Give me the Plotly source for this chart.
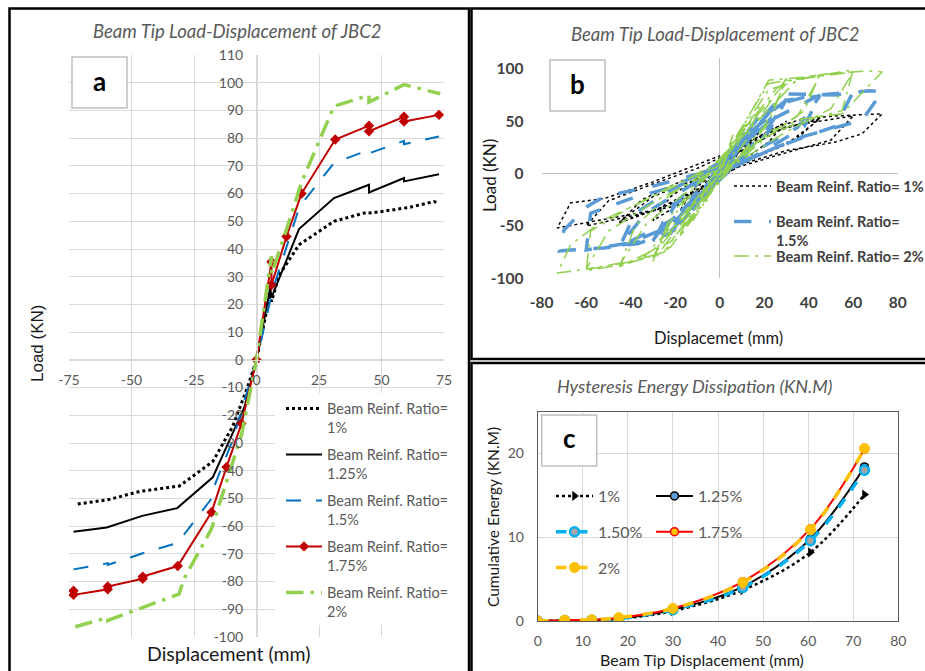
import plotly.graph_objects as go

W, H = 925, 671
FONT = "Lato"

# ---------------- Panel a: envelope (backbone) curves ----------------
a_x_1 = [-71.5, -59.5, -46.8, -30.8, -17.5, -9.5, -3.5, 0, 5.5, 6, 9, 17, 31, 44, 46, 58.5, 61, 71, 73]
a_y_1 = [-52, -50.5, -47.5, -45.5, -36.7, -24, -9.6, 0, 24, 21, 30.5, 41.5, 50, 53.2, 53, 54.7, 55, 57.1, 56.5]

a_x_125 = [-73.2, -59.9, -45.7, -31.7, -17.5, -7, -4.8, 0, 5.5, 6, 17, 31, 45, 45, 59, 59, 73]
a_y_125 = [-62, -60.5, -56.3, -53.5, -42.4, -21.4, -17, 0, 26, 22.5, 47.2, 58.4, 63.2, 60.4, 65.6, 64.4, 67]

a_x_15 = [-73.2, -59.5, -59.5, -45.5, -31.5, -17.5, -17.5, -9.5, 0, 6.5, 17.2, 31, 45, 45, 59, 59, 73]
a_y_15 = [-75.6, -73.4, -74, -69.8, -66, -49.5, -47, -28.9, 0, 25.3, 55.3, 71, 75.8, 74.5, 79, 77.8, 80.6]

a_x_175 = [-73.2, -73.2, -59.5, -59.5, -45.5, -45.5, -31.5, -18, -12, -6, 0, 6, 6, 12, 18, 31.5, 45, 45, 59, 59, 73]
a_y_175 = [-83.3, -84.8, -82.8, -81.8, -79, -78.2, -74.4, -55, -38.7, -23, 0, 35.4, 27, 44.5, 60, 79.5, 84.5, 82.5, 87.7, 86, 88.4]

a_x_2 = [-72.5, -59.5, -59.5, -45.5, -31, -29, -18, -12, -6, 0, 6, 6, 12, 18, 31, 45, 45, 59, 73.5]
a_y_2 = [-96.3, -93, -94, -89.3, -84.5, -79, -61, -44, -27, 0, 37.5, 31, 47, 64, 91.5, 95.5, 93, 99.3, 96]

a_x_ticks = [-75, -50, -25, 0, 25, 50, 75]
a_x_ticktext = ["-75", "-50", "-25", "0", "25", "50", "75"]
a_y_ticks = [-100, -90, -80, -70, -60, -50, -40, -30, -20, -10, 0, 10, 20, 30, 40, 50, 60, 70, 80, 90, 100, 110]
a_y_ticktext = ["-100", "-90", "-80", "-70", "-60", "-50", "-40", "-30", "-20", "-10", "0", "10", "20", "30",
                "40", "50", "60", "70", "80", "90", "100", "110"]

# ---------------- Panel b: hysteresis loops ----------------
b_x_1 = [0, 6, 3, 0, -6, -3, 0,
         12, 7, 0, -12, -7, 0,
         18, 12, 4, 0, -18, -12, -4, 0,
         15, 30, 22, 10, 0, -15, -30, -22, -10, 0,
         25, 45, 35, 20, 5, 0, -25, -45, -35, -20, -5, 0,
         20, 45, 30, 10, 0, -20, -45, -30, -10, 0,
         30, 60, 50, 30, 8, 0, -30, -60, -50, -30, -10, 0,
         25, 37, 52, 73, 64, 52, 30, 10, 0, -22, -45, -67, -73, -67, -52, -30, -13, 0]
b_y_1 = [0, 20, 8, -2, -15, -5, 3,
         31, 15, -3, -25, -10, 5,
         41, 22, 6, -4, -36, -16, -2, 7,
         30, 50, 30, 12, -4, -25, -45, -22, -4, 9,
         40, 53, 34, 20, 6, -4, -32, -47, -25, -10, 4, 12,
         38, 52, 28, 10, -3, -28, -46, -22, -5, 10,
         45, 55, 32, 20, 6, -4, -36, -50, -26, -10, 5, 15,
         44, 52, 55, 57, 38, 30, 22, 9, -4, -32, -41, -50, -52, -28, -24, -8, 6, 17]

b_x_15 = [0, 6, 3, 0, -6, -3, 0,
          12, 7, 0, -12, -7, 0,
          18, 12, 4, 0, -18, -12, -4, 0,
          20, 30, 22, 10, 0, -20, -30, -22, -10, 0,
          25, 30, 20, 8, 0, -22, -30, -20, -8, 0,
          22, 45, 38, 22, 6, 0, -22, -45, -38, -22, -6, 0,
          30, 45, 35, 18, 0, -30, -45, -33, -15, 0,
          26, 40, 60, 52, 37, 22, 0, -22, -40, -60, -58, -40, -20, 0,
          25, 30, 52, 67, 73, 64, 51, 37, 22, 0, -15, -22, -37, -52, -67, -72, -70, -60, -52, -30, 0]
b_y_15 = [0, 25, 10, -3, -20, -6, 4,
          40, 18, -4, -35, -14, 6,
          55, 28, 8, -5, -48, -22, -4, 8,
          45, 71, 40, 15, -5, -40, -66, -32, -8, 10,
          62, 70, 38, 14, -4, -55, -64, -30, -6, 8,
          50, 75, 45, 24, 6, -6, -45, -70, -38, -16, 2, 12,
          70, 74, 44, 24, 0, -62, -69, -37, -14, 8,
          66, 74, 78, 45, 34, 22, 0, -50, -66, -73, -38, -24, -12, 10,
          67, 76, 75, 79, 78, 51, 43, 35, 22, 0, -38, -57, -67, -71, -73, -74, -54, -32, -22, -12, 5]

b_x_2 = [0, 6, 3, 0, -6, -3, 0,
         12, 7, 0, -12, -7, 0,
         18, 12, 4, 0, -18, -12, -4, 0,
         20, 30, 22, 10, 0, -20, -30, -22, -10, 0,
         25, 30, 20, 8, 0, -22, -30, -20, -8, 0,
         22, 45, 38, 22, 6, 0, -22, -45, -38, -22, -6, 0,
         30, 45, 35, 18, 0, -30, -45, -33, -15, 0,
         22, 40, 60, 55, 37, 20, 0, -25, -40, -60, -58, -40, -20, 0,
         35, 60, 50, 30, 0, -35, -60, -50, -28, 0,
         22, 37, 52, 67, 73, 55, 37, 22, 0, -28, -37, -52, -67, -73, -67, -52, -37, -22, 0]
b_y_2 = [0, 37, 15, -3, -27, -8, 5,
         47, 22, -4, -45, -18, 6,
         64, 32, 8, -6, -61, -28, -5, 9,
         60, 91, 48, 18, -6, -55, -84, -40, -10, 12,
         80, 88, 45, 15, -5, -70, -80, -38, -8, 10,
         80, 95, 60, 36, 8, -8, -65, -89, -50, -20, 2, 14,
         88, 93, 55, 30, 0, -78, -87, -48, -18, 10,
         86, 92, 99, 60, 50, 35, 0, -75, -85, -93, -55, -32, -12, 12,
         90, 97, 62, 40, 0, -82, -91, -55, -25, 5,
         89, 92, 96, 98, 97, 57, 52, 40, 0, -70, -83, -89, -93, -95, -68, -44, -29, -12, 8]

b_x_ticks = [-80, -60, -40, -20, 0, 20, 40, 60, 80]
b_x_ticktext = ["-80", "-60", "-40", "-20", "0", "20", "40", "60", "80"]
b_y_ticks = [-100, -50, 0, 50, 100]
b_y_ticktext = ["-100", "-50", "0", "50", "100"]

# ---------------- Panel c: cumulative energy ----------------
c_x = [0, 6, 12, 18, 30, 45.5, 60.5, 72.5]
c_1 = [0, 0.05, 0.1, 0.25, 1.2, 3.7, 8.2, 15.1]
c_125 = [0, 0.05, 0.1, 0.3, 1.35, 4.1, 9.8, 18.4]
c_150 = [0, 0.05, 0.1, 0.3, 1.35, 4.0, 9.6, 18.0]
c_175 = [0, 0.1, 0.15, 0.4, 1.5, 4.7, 11.0, 20.5]
c_2 = [0, 0.1, 0.15, 0.4, 1.5, 4.6, 10.9, 20.6]
c_x_ticks = [0, 10, 20, 30, 40, 50, 60, 70, 80]
c_y_ticks = [0, 10, 20]


def PX(p):
    return p / W


def PY(p):
    return 1 - p / H


GRAY_T = "#595959"
GRID = "#D9D9D9"

fig = go.Figure()

# ---- panel a traces ----
LEG_A = "Beam Reinf. Ratio=<br>"
fig.add_trace(go.Scatter(x=a_x_1, y=a_y_1, mode="lines", name=LEG_A + "1%",
                         line=dict(color="black", width=3, dash="dot"),
                         xaxis="x", yaxis="y", legend="legend"))
fig.add_trace(go.Scatter(x=a_x_125, y=a_y_125, mode="lines", name=LEG_A + "1.25%",
                         line=dict(color="black", width=2),
                         xaxis="x", yaxis="y", legend="legend2"))
fig.add_trace(go.Scatter(x=a_x_15, y=a_y_15, mode="lines", name=LEG_A + "1.5%",
                         line=dict(color="#0070C0", width=2, dash="longdash"),
                         xaxis="x", yaxis="y", legend="legend3"))
fig.add_trace(go.Scatter(x=a_x_175, y=a_y_175, mode="lines+markers", name=LEG_A + "1.75%",
                         line=dict(color="#C00000", width=2),
                         marker=dict(symbol="diamond", size=8, color="#C00000"),
                         xaxis="x", yaxis="y", legend="legend4"))
fig.add_trace(go.Scatter(x=a_x_2, y=a_y_2, mode="lines", name=LEG_A + "2%",
                         line=dict(color="#92D050", width=3.5, dash="longdashdot"),
                         xaxis="x", yaxis="y", legend="legend5"))

# ---- panel b traces ----
fig.add_trace(go.Scatter(x=b_x_1, y=b_y_1, mode="lines", name="Beam Reinf. Ratio= 1%",
                         line=dict(color="black", width=1.5, dash="dot"),
                         xaxis="x2", yaxis="y2", legend="legend6"))
fig.add_trace(go.Scatter(x=b_x_15, y=b_y_15, mode="lines", name="Beam Reinf. Ratio=<br>1.5%",
                         line=dict(color="#5B9BD5", width=3.5, dash="longdash"),
                         xaxis="x2", yaxis="y2", legend="legend7"))
fig.add_trace(go.Scatter(x=b_x_2, y=b_y_2, mode="lines", name="Beam Reinf. Ratio= 2%",
                         line=dict(color="#92D050", width=1.5, dash="longdashdot"),
                         xaxis="x2", yaxis="y2", legend="legend8"))

# ---- panel c traces ----
fig.add_trace(go.Scatter(x=c_x, y=c_1, mode="lines+markers", name="1%",
                         line=dict(color="black", width=2.5, dash="dot", shape="spline"),
                         marker=dict(symbol="triangle-right", size=9, color="black"),
                         xaxis="x3", yaxis="y3", legend="legend9"))
fig.add_trace(go.Scatter(x=c_x, y=c_125, mode="lines+markers", name="1.25%",
                         line=dict(color="black", width=2, shape="spline"),
                         marker=dict(symbol="circle", size=8, color="#5B9BD5",
                                     line=dict(color="black", width=1.5)),
                         xaxis="x3", yaxis="y3", legend="legend10"))
fig.add_trace(go.Scatter(x=c_x, y=c_150, mode="lines+markers", name="1.50%",
                         line=dict(color="#00B0F0", width=3.5, dash="dash", shape="spline"),
                         marker=dict(symbol="circle", size=9, color="#A5A5A5",
                                     line=dict(color="#00B0F0", width=2.5)),
                         xaxis="x3", yaxis="y3", legend="legend9"))
fig.add_trace(go.Scatter(x=c_x, y=c_175, mode="lines+markers", name="1.75%",
                         line=dict(color="#FF0000", width=2, shape="spline"),
                         marker=dict(symbol="circle", size=8, color="#FFC000",
                                     line=dict(color="#FF0000", width=1.5)),
                         xaxis="x3", yaxis="y3", legend="legend10"))
fig.add_trace(go.Scatter(x=c_x, y=c_2, mode="lines+markers", name="2%",
                         line=dict(color="#FFC000", width=3.5, dash="dash", shape="spline"),
                         marker=dict(symbol="circle", size=10, color="#FFC000",
                                     line=dict(color="#FFC000", width=1)),
                         xaxis="x3", yaxis="y3", legend="legend9"))

# ---- axes ----
tick_a = dict(family=FONT, size=14, color=GRAY_T)
layout = dict(
    width=W, height=H, margin=dict(l=0, r=0, t=0, b=0, pad=0, autoexpand=False),
    paper_bgcolor="white", plot_bgcolor="rgba(0,0,0,0)",
    font=dict(family=FONT, color=GRAY_T),
    showlegend=True,
    xaxis=dict(domain=[PX(69), PX(444)], range=[-75, 75], tickvals=a_x_ticks, ticktext=a_x_ticktext,
               anchor="free", position=PY(360), showgrid=True, gridcolor=GRID, gridwidth=1,
               zeroline=False, showline=True, linecolor=GRID, ticks="outside", ticklen=7,
               tickcolor="rgba(0,0,0,0)", tickfont=tick_a),
    yaxis=dict(domain=[PY(637), PY(55)], range=[-100, 110], tickvals=a_y_ticks, ticktext=a_y_ticktext,
               anchor="free", position=PX(257), showgrid=True, gridcolor=GRID, gridwidth=1,
               zeroline=False, showline=True, linecolor=GRID, ticks="outside", ticklen=11,
               tickcolor="rgba(0,0,0,0)", tickfont=tick_a),
    xaxis2=dict(domain=[PX(541.7), PX(897.7)], range=[-80, 80], tickvals=b_x_ticks, ticktext=b_x_ticktext,
                anchor="y2", showgrid=False, zeroline=True, zerolinecolor="#BFBFBF", zerolinewidth=1,
                showline=False, ticks="outside", ticklen=10, tickcolor="rgba(0,0,0,0)",
                tickfont=dict(family=FONT, size=15.5, color="#404040", weight="bold")),
    yaxis2=dict(domain=[PY(278.3), PY(58.3)], range=[-100, 110], tickvals=b_y_ticks, ticktext=b_y_ticktext,
                anchor="x2", showgrid=False, zeroline=True, zerolinecolor="#BFBFBF", zerolinewidth=1,
                showline=False, ticks="outside", ticklen=14, tickcolor="rgba(0,0,0,0)",
                tickfont=dict(family=FONT, size=15.5, color="#404040", weight="bold")),
    xaxis3=dict(domain=[PX(537.7), PX(898.3)], range=[0, 80], tickvals=c_x_ticks,
                anchor="y3", showgrid=True, gridcolor=GRID, zeroline=False,
                showline=True, mirror=True, linecolor="#595959", linewidth=1,
                ticks="outside", ticklen=7, tickcolor="rgba(0,0,0,0)",
                tickfont=dict(family=FONT, size=14, color=GRAY_T)),
    yaxis3=dict(domain=[PY(621), PY(411.7)], range=[0, 25], tickvals=c_y_ticks,
                anchor="x3", showgrid=True, gridcolor=GRID, zeroline=False,
                showline=True, mirror=True, linecolor="#595959", linewidth=1,
                ticks="outside", ticklen=10, tickcolor="rgba(0,0,0,0)",
                tickfont=dict(family=FONT, size=14, color=GRAY_T)),
)

# ---- legends ----
leg_font_a = dict(family=FONT, size=14.5, color=GRAY_T)
a_rows = [418, 464, 510, 556, 602]
for i, yy in enumerate(a_rows):
    key = "legend" if i == 0 else "legend%d" % (i + 1)
    layout[key] = dict(x=PX(281), y=PY(yy), xanchor="left", yanchor="middle",
                       bgcolor="rgba(0,0,0,0)", font=leg_font_a, valign="top", itemwidth=36)

leg_font_b = dict(family=FONT, size=14.6, color="#404040", weight="bold")
b_rows = [186, 231, 256]
for i, yy in enumerate(b_rows):
    key = "legend%d" % (i + 6)
    layout[key] = dict(x=PX(729), y=PY(yy), xanchor="left", yanchor="middle",
                       bgcolor="rgba(0,0,0,0)", font=leg_font_b, valign="top", itemwidth=37)

leg_font_c = dict(family=FONT, size=16, color=GRAY_T)
layout["legend9"] = dict(x=PX(551), y=PY(479), xanchor="left", yanchor="top", bgcolor="rgba(0,0,0,0)",
                         font=leg_font_c, itemwidth=37, tracegroupgap=12, traceorder="grouped")
layout["legend10"] = dict(x=PX(651), y=PY(479), xanchor="left", yanchor="top", bgcolor="rgba(0,0,0,0)",
                          font=leg_font_c, itemwidth=37, tracegroupgap=12, traceorder="grouped")

fig.update_layout(**layout)
# separate legend groups so tracegroupgap spaces them
for i, tr in enumerate(fig.data):
    tr.legendgroup = "g%d" % i

# ---- shapes: panel frames, letter boxes, legend cover ----
shapes = [
    dict(type="rect", xref="paper", yref="paper", x0=PX(275), x1=PX(447), y0=PY(625), y1=PY(393),
         fillcolor="white", line=dict(width=0), layer="above"),
    dict(type="rect", xref="paper", yref="paper", x0=PX(9.5), x1=PX(469), y0=PY(675), y1=PY(8.5),
         line=dict(color="black", width=2.5), layer="above"),
    dict(type="rect", xref="paper", yref="paper", x0=PX(471.5), x1=PX(930), y0=PY(359), y1=PY(8.5),
         line=dict(color="black", width=2.5), layer="above"),
    dict(type="rect", xref="paper", yref="paper", x0=PX(471.5), x1=PX(930), y0=PY(675), y1=PY(363),
         line=dict(color="black", width=2.5), layer="above"),
]
for (x0, y0, x1, y1) in [(72, 57, 127, 108), (550, 60, 605, 111), (541.7, 415, 596.7, 466)]:
    shapes.append(dict(type="rect", xref="paper", yref="paper", x0=PX(x0), x1=PX(x1), y0=PY(y1), y1=PY(y0),
                       fillcolor="white", line=dict(color="#BFBFBF", width=1.5), layer="above"))
fig.update_layout(shapes=shapes)

# ---- annotations ----
def ann(text, x, y, size, color=GRAY_T, angle=0, weight="normal", family=FONT):
    return dict(text=text, x=PX(x), y=PY(y), xref="paper", yref="paper", showarrow=False,
                xanchor="center", yanchor="middle", textangle=angle,
                font=dict(family=family, size=size, color=color, weight=weight))

anns = [
    ann("<i>Beam Tip Load-Displacement of JBC2</i>", 237, 31, 18.5),
    ann("<i>Beam Tip Load-Displacement of JBC2</i>", 715, 34, 18.5),
    ann("<i>Hysteresis Energy Dissipation (KN.M)</i>", 694, 386, 18),
    ann("Load (KN)", 37, 344, 17, "#1A1A1A", -90, "normal", "Liberation Sans"),
    ann("Displacement (mm)", 228, 653, 19.5, "#1A1A1A"),
    ann("Load (KN)", 489, 176, 17, "#1A1A1A", -90),
    ann("Displacemet (mm)", 718, 338, 16.5, "#1A1A1A"),
    ann("Cumulative Energy (KN.M)", 493, 517, 15.5, "#1A1A1A", -90),
    ann("Beam Tip Displacement (mm)", 702, 659, 16, "#1A1A1A"),
    ann("a", 99.5, 81, 26, "black", 0, "bold"),
    ann("b", 577.5, 84, 26, "black", 0, "bold"),
    ann("c", 569, 438, 26, "black", 0, "bold"),
]
fig.update_layout(annotations=anns)

fig.write_html("out.html")
